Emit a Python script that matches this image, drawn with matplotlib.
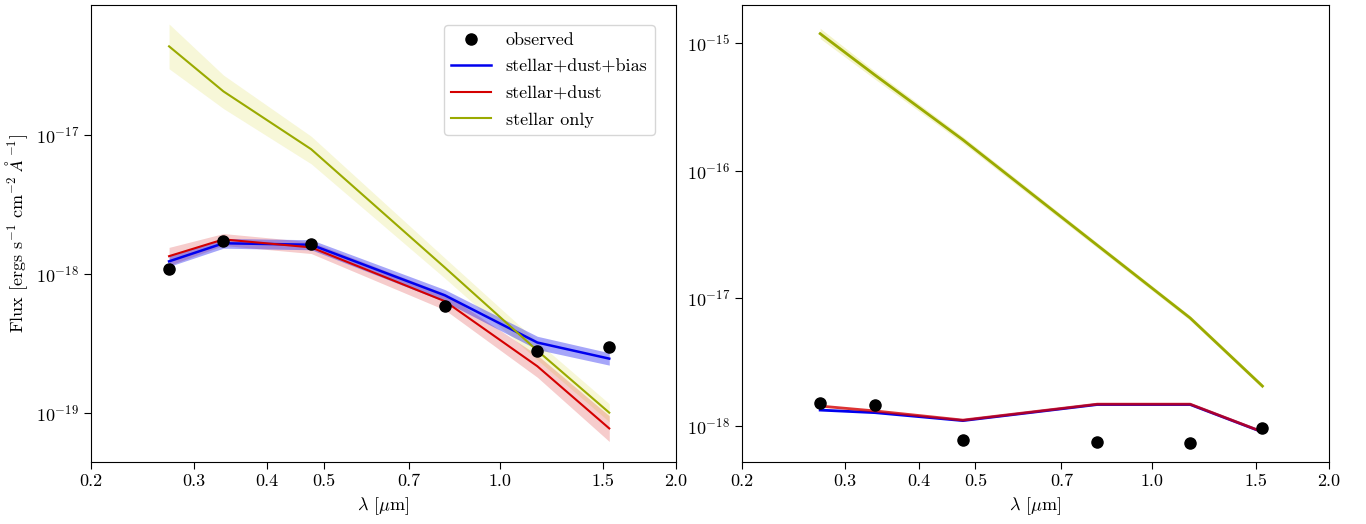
import matplotlib
matplotlib.use("Agg")
import matplotlib.pyplot as plt
import numpy as np

plt.rcParams['font.family'] = 'serif'
plt.rcParams['font.serif'] = ['cmr10', 'DejaVu Serif']
plt.rcParams['mathtext.fontset'] = 'cm'
plt.rcParams['axes.formatter.use_mathtext'] = True

# wavelengths of the filters (micron)
lam = [0.272, 0.337, 0.476, 0.806, 1.16, 1.54]

# left panel
obs_L = [1.09e-18, 1.73e-18, 1.64e-18, 5.85e-19, 2.8e-19, 2.96e-19]
bias_L = [1.23e-18, 1.66e-18, 1.62e-18, 7.0e-19, 3.2e-19, 2.45e-19]
bias_L_lo = [1.13e-18, 1.53e-18, 1.49e-18, 6.3e-19, 2.85e-19, 2.2e-19]
bias_L_hi = [1.34e-18, 1.80e-18, 1.76e-18, 7.7e-19, 3.55e-19, 2.7e-19]
dust_L = [1.34e-18, 1.77e-18, 1.55e-18, 6.35e-19, 2.16e-19, 7.7e-20]
dust_L_lo = [1.15e-18, 1.60e-18, 1.40e-18, 5.5e-19, 1.8e-19, 6.2e-20]
dust_L_hi = [1.55e-18, 1.95e-18, 1.70e-18, 7.2e-19, 2.6e-19, 9.5e-20]
star_L = [4.35e-17, 2.06e-17, 7.9e-18, 1.11e-18, 2.8e-19, 1.0e-19]
star_L_lo = [3.0e-17, 1.55e-17, 6.2e-18, 9.3e-19, 2.4e-19, 8.6e-20]
star_L_hi = [6.3e-17, 2.7e-17, 9.8e-18, 1.3e-18, 3.25e-19, 1.16e-19]

# right panel
obs_R = [1.52e-18, 1.45e-18, 7.7e-19, 7.5e-19, 7.4e-19, 9.7e-19]
bias_R = [1.33e-18, 1.27e-18, 1.10e-18, 1.47e-18, 1.47e-18, 8.95e-19]
dust_R = [1.43e-18, 1.31e-18, 1.11e-18, 1.48e-18, 1.48e-18, 8.98e-19]
star_R = [1.18e-15, 5.6e-16, 1.74e-16, 2.6e-17, 7.0e-18, 2.05e-18]
star_R_lo = [1.08e-15, 5.2e-16, 1.64e-16, 2.48e-17, 6.7e-18, 1.97e-18]
star_R_hi = [1.30e-15, 6.0e-16, 1.84e-16, 2.72e-17, 7.3e-18, 2.13e-18]

xticks = [0.2, 0.3, 0.4, 0.5, 0.7, 1.0, 1.5, 2.0]
yticks_L = [1e-19, 1e-18, 1e-17]
yticks_R = [1e-18, 1e-17, 1e-16, 1e-15]

c_blue = '#0000ee'
c_red = '#d40000'
c_star = '#9aaa00'

fig = plt.figure(figsize=(13.66, 5.24), dpi=100)
ax1 = fig.add_axes([0.0666, 0.118, 0.428, 0.872])
ax2 = fig.add_axes([0.543, 0.118, 0.430, 0.872])

# left
ax1.fill_between(lam, star_L_lo, star_L_hi, color='#e0e066', alpha=0.25, lw=0)
ax1.fill_between(lam, dust_L_lo, dust_L_hi, color=c_red, alpha=0.2, lw=0)
ax1.fill_between(lam, bias_L_lo, bias_L_hi, color=c_blue, alpha=0.35, lw=0)
ax1.plot(lam, obs_L, 'o', color='black', ms=8, label='observed', zorder=5)
ax1.plot(lam, bias_L, color=c_blue, lw=1.8, label='stellar+dust+bias')
ax1.plot(lam, dust_L, color=c_red, lw=1.5, label='stellar+dust')
ax1.plot(lam, star_L, color=c_star, lw=1.5, label='stellar only')
ax1.set_ylim(4.4e-20, 8.6e-17)
ax1.set_ylabel(r'Flux [ergs s$^{-1}$ cm$^{-2}$ $\AA^{-1}$]', fontsize=13)
ax1.legend(loc='upper right', bbox_to_anchor=(0.964, 0.956), borderaxespad=0,
           fontsize=13, numpoints=1, handlelength=2.2, labelspacing=0.6)

# right
ax2.fill_between(lam, star_R_lo, star_R_hi, color='#e0e066', alpha=0.35, lw=0)
ax2.plot(lam, obs_R, 'o', color='black', ms=8, zorder=5)
ax2.plot(lam, star_R, color=c_star, lw=2)
ax2.plot(lam, bias_R, color=c_blue, lw=2)
ax2.plot(lam, dust_R, color=c_red, lw=2, alpha=0.8)
ax2.set_ylim(5.2e-19, 1.97e-15)

for ax, yt in ((ax1, yticks_L), (ax2, yticks_R)):
    ax.set_xscale('log')
    ax.set_yscale('log')
    ax.set_xlim(0.2, 2.0)
    ax.set_xticks(xticks)
    ax.set_xticklabels([f'{t:.1f}' for t in xticks])
    ax.set_yticks(yt)
    ax.minorticks_off()
    ax.tick_params(labelsize=13, length=5)
    ax.tick_params(which='minor', left=False, bottom=False,
                   labelleft=False, labelbottom=False)
    ax.set_xlabel(r'$\lambda$ [$\mu$m]', fontsize=13)

fig.savefig('out.png', dpi=100)
